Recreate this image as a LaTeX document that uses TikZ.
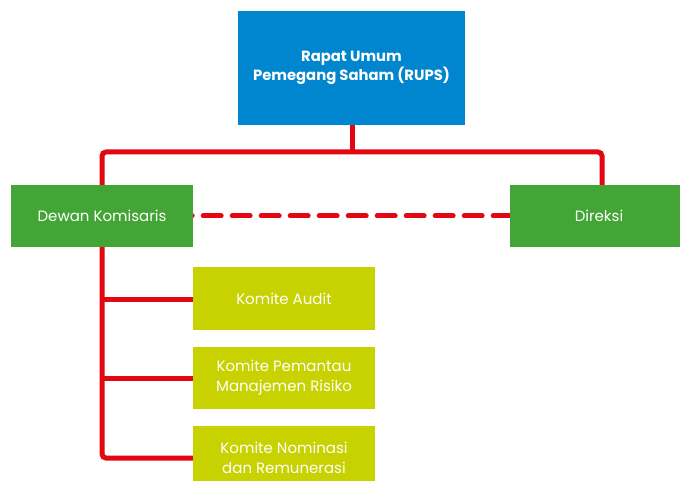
\documentclass[tikz,border=0pt]{standalone}
\usepackage{fontspec}
\setmainfont{Poppins}
\definecolor{rupsblue}{HTML}{0085CF}
\definecolor{boardgreen}{HTML}{43A535}
\definecolor{komlime}{HTML}{C8D200}
\definecolor{linered}{HTML}{E30613}
\begin{document}
\begin{tikzpicture}[x=1pt,y=-1pt,
  box/.style={draw=none,inner sep=0pt,text=white,align=center,font=\fontsize{15}{20}\selectfont},
  conn/.style={draw=linered,line width=5pt,rounded corners=4pt},
  dashconn/.style={draw=linered,line width=5pt,line cap=round,dash pattern=on 18pt off 11pt}]
\useasboundingbox (0,0) rectangle (680,481);
% connectors first (under boxes)
\coordinate (rupsbot) at (352,125);
\coordinate (bar) at (352,152);
\coordinate (dktop) at (102,185);
\coordinate (dirtop) at (602,185);
\coordinate (dkbot) at (102,247);
\draw[conn] (rupsbot) -- (bar);
\draw[conn] (dktop) -- (102,152) -- (602,152) -- (dirtop);
\draw[conn] (dkbot) -- (102,458) -- (193,458);
\draw[conn] (102,299) -- (193,299);
\draw[conn] (102,378) -- (193,378);
\draw[dashconn] (174.2,216) -- (530,216);
% boxes
\fill[rupsblue] (238,11) rectangle (465,125);
\node[box,font=\fontsize{14.8}{19.5}\selectfont\bfseries] (rups) at (351.5,68) {Rapat Umum\\Pemegang Saham (RUPS)};
\fill[boardgreen] (11,185) rectangle (193,247);
\node[box] (dk) at (102,216) {Dewan Komisaris};
\fill[boardgreen] (510,185) rectangle (680,247);
\node[box] (dir) at (599,216) {Direksi};
\fill[komlime] (193,267) rectangle (375,330);
\node[box] (ka) at (284,299) {Komite Audit};
\fill[komlime] (193,347) rectangle (375,409);
\node[box] (kp) at (284,378) {Komite Pemantau\\Manajemen Risiko};
\fill[komlime] (193,426) rectangle (375,481);
\node[box] (kn) at (284,458) {Komite Nominasi\\dan Remunerasi};
\end{tikzpicture}
\end{document}
